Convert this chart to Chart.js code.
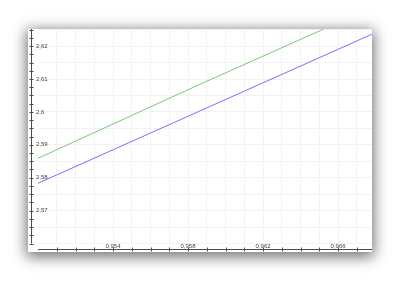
<!DOCTYPE html>
<html>
<head>
<meta charset="utf-8">
<script src="https://cdn.jsdelivr.net/npm/chart.js@4"></script>
<style>
  html, body { margin: 0; padding: 0; background: #fff; }
  #wrap { position: relative; width: 401px; height: 284px; overflow: hidden; }
  #card {
    position: absolute; left: 28px; top: 29px; width: 344px; height: 223px;
    background: #fff;
    box-shadow: 0 3px 13px 2px rgba(0, 0, 0, 0.55);
  }
  #chart { position: absolute; left: 0; top: 0; }
</style>
</head>
<body>
<div id="wrap">
  <div id="card"></div>
  <canvas id="chart" width="401" height="284"></canvas>
</div>
<script>
// series
let blueX = [0.950, 0.9586, 0.9678];
let blueY = [2.5783, 2.6002, 2.6236];
let greenX = [0.950, 0.9586, 0.9652];
let greenY = [2.5859, 2.6083, 2.6251];

// axes
let xMin = 0.950, xMax = 0.96781;
let yMin = 2.56, yMax = 2.6252;
let xLabelValues = [0.954, 0.958, 0.962, 0.966];
let yLabelValues = [2.57, 2.58, 2.59, 2.6, 2.61, 2.62];
let xGridValues = [0.951, 0.952, 0.953, 0.954, 0.955, 0.956, 0.957, 0.958, 0.959,
                   0.960, 0.961, 0.962, 0.963, 0.964, 0.965, 0.966, 0.967];
let yGridValues = [2.56, 2.565, 2.57, 2.575, 2.58, 2.585, 2.59, 2.595, 2.6,
                   2.605, 2.61, 2.615, 2.62, 2.625];
let yMinorStep = 0.0025;

function toPoints(xs, ys) {
    return xs.map(function (x, i) { return { x: x, y: ys[i] }; });
}

function fmt(v) {
    return String(v).replace('.', ',');
}

// axis lines, tick marks and labels sit off the plot edges, so draw them here
const axesPlugin = {
    id: 'offsetAxes',
    afterDraw(chart) {
        const ctx = chart.ctx;
        const xs = chart.scales.x;
        const ys = chart.scales.y;
        const area = chart.chartArea;
        const axisX = 31.5;   // vertical axis line
        const axisY = 249.5;  // horizontal axis line
        ctx.save();
        ctx.strokeStyle = '#4a4a4a';
        ctx.lineWidth = 1;

        // y axis
        ctx.beginPath();
        ctx.moveTo(axisX, area.top);
        ctx.lineTo(axisX, area.bottom);
        for (let v = yMin; v <= yMax + 1e-9; v += yMinorStep) {
            const py = Math.round(ys.getPixelForValue(v)) + 0.5;
            ctx.moveTo(axisX - 2, py);
            ctx.lineTo(axisX + 2, py);
        }
        ctx.stroke();

        // x axis
        ctx.beginPath();
        ctx.moveTo(area.left, axisY);
        ctx.lineTo(area.right, axisY);
        xGridValues.forEach(function (v) {
            const px = Math.round(xs.getPixelForValue(v)) + 0.5;
            ctx.moveTo(px, axisY - 2);
            ctx.lineTo(px, axisY + 2);
        });
        ctx.stroke();

        ctx.fillStyle = '#444';
        ctx.font = '6px "Liberation Sans", Arial, sans-serif';
        ctx.textAlign = 'left';
        ctx.textBaseline = 'middle';
        yLabelValues.forEach(function (v) {
            ctx.fillText(fmt(v), 36, ys.getPixelForValue(v));
        });
        ctx.textAlign = 'center';
        ctx.textBaseline = 'alphabetic';
        xLabelValues.forEach(function (v) {
            ctx.fillText(fmt(v), xs.getPixelForValue(v), 247.5);
        });
        ctx.restore();
    }
};

const ctx = document.getElementById('chart');

let chart = new Chart(ctx, {
    type: 'scatter',
    data: {
        datasets: [{
            label: 'green',
            data: toPoints(greenX, greenY),
            showLine: true,
            borderColor: '#78c878',
            borderWidth: 1,
            pointRadius: 0
        }, {
            label: 'blue',
            data: toPoints(blueX, blueY),
            showLine: true,
            borderColor: '#7272ff',
            borderWidth: 1,
            pointRadius: 0
        }]
    },
    options: {
        responsive: false,
        animation: false,
        events: [],
        layout: {
            padding: { left: 38, top: 29, right: 29, bottom: 40.5 }
        },
        scales: {
            x: {
                type: 'linear',
                min: xMin,
                max: xMax,
                afterBuildTicks: function (scale) {
                    scale.ticks = xGridValues.map(function (v) { return { value: v }; });
                },
                ticks: { display: false },
                grid: { color: '#f2f2f2', drawTicks: false },
                border: { display: false }
            },
            y: {
                type: 'linear',
                min: yMin,
                max: yMax,
                afterBuildTicks: function (scale) {
                    scale.ticks = yGridValues.map(function (v) { return { value: v }; });
                },
                ticks: { display: false },
                grid: { color: '#f2f2f2', drawTicks: false },
                border: { display: false }
            }
        },
        plugins: {
            legend: { display: false },
            tooltip: { enabled: false }
        }
    },
    plugins: [axesPlugin]
});
</script>
</body>
</html>
